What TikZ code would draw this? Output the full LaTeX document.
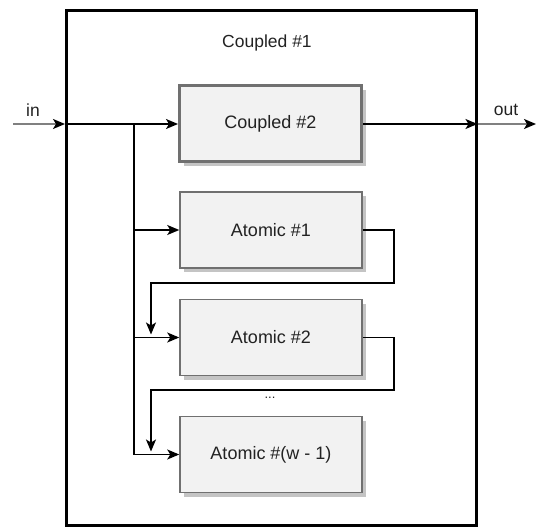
\documentclass[tikz,border=0pt]{standalone}
\usepackage{fontspec}
\setmainfont{Liberation Sans}
\usetikzlibrary{arrows.meta,shadows}
\definecolor{boxfill}{HTML}{F2F2F2}
\definecolor{boxline}{HTML}{707070}
\definecolor{shadowc}{HTML}{C4C4C4}
\definecolor{txt}{HTML}{222222}
\begin{document}
\begin{tikzpicture}[x=1pt,y=-1pt,
  lbl/.style={font=\fontsize{17.5}{20}\selectfont, text=txt},
  blk/.style={draw=boxline, fill=boxfill, minimum width=182pt, minimum height=76pt,
    drop shadow={shadow xshift=4pt, shadow yshift=-4pt, fill=shadowc, opacity=1},
    font=\fontsize{18}{21}\selectfont, text=txt},
  atombox/.style={blk, line width=1.5pt},
  coupbox/.style={blk, line width=3pt},
  wire/.style={line width=1.4pt, draw=black},
  conn/.style={wire, -{Stealth[length=12pt,width=10pt,inset=3pt]}},
  ioconn/.style={line width=1.6pt, draw=black!50, -{Stealth[length=12pt,width=10pt,inset=3pt,color=black]}}
]
\useasboundingbox (0,0) rectangle (539,527);
% outer coupled box
\node[draw, line width=3pt, minimum width=409.5pt, minimum height=514.5pt, inner sep=0pt] (c1) at (271.25,267.75) {};
\node[lbl] (c1lbl) at (267,43) {Coupled \#1};
% inner blocks
\node[coupbox] (c2) at (270.5,124) {Coupled \#2};
\node[atombox] (a1) at (271,230) {Atomic \#1};
\node[atombox] (a2) at (271,337.5) {Atomic \#2};
\node[atombox] (a3) at (271,454.5) {Atomic \#(w - 1)};
\node[lbl, font=\fontsize{13}{15}\selectfont] (dots) at (270,398) {...};
% in / out
\coordinate (inS) at (13,124);
\coordinate (outE) at (536,124);
\node[lbl] (inlbl) at (33,110) {in};
\node[lbl] (outlbl) at (506,110) {out};
\draw[ioconn] (inS) -- (inS -| c1.west);
\draw[ioconn] (c2.east -| c1.east) -- (outE);
% main line
\draw[conn] (c1.west |- c2) -- (c2.west);
\draw[conn] (c2.east) -- (c2.east -| c1.east);
% trunk
\coordinate (tr) at (134,124);
\draw[wire] (tr) -- (tr |- a3);
\draw[conn] (tr |- a1) -- (a1.west);
\draw[conn] (tr |- a2) -- (a2.west);
\draw[conn] (tr |- a3) -- (a3.west);
% chain loops
\draw[conn] (a1.east) -| (394,283) -| (151,334.5);
\draw[conn] (a2.east) -| (394,390) -| (151,451.5);
\end{tikzpicture}
\end{document}
